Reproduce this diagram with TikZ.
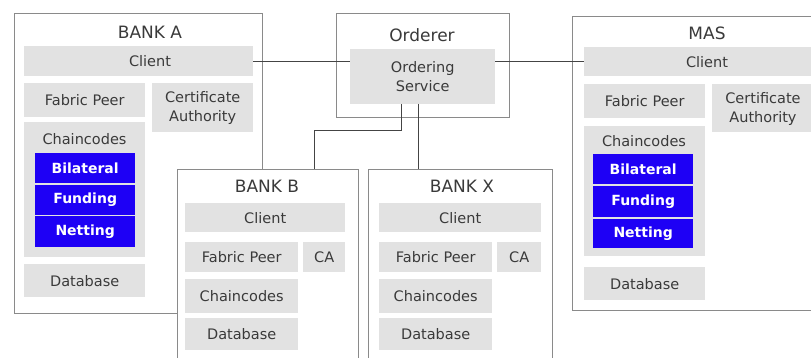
\documentclass[tikz,border=0pt]{standalone}
\usepackage{fontspec}
\setmainfont{DejaVu Sans}
\definecolor{gfill}{HTML}{E2E2E2}
\definecolor{bblue}{RGB}{30,0,245}
\definecolor{frame}{HTML}{8A8A8A}
\definecolor{txt}{HTML}{3A3A3A}
\definecolor{wire}{HTML}{444444}
\newcommand\bx[7]{\node[#1, anchor=north west, minimum width={#5-#3}, minimum height={#6-#4}] (#2) at (#3,#4) {#7};}
\tikzset{
  gbox/.style={fill=gfill, draw=none, inner sep=0pt, text=txt, font=\fontsize{14.5}{19}\selectfont, align=center},
  bbox/.style={fill=bblue, draw=none, inner sep=0pt, text=white, font=\fontsize{14}{16}\selectfont\bfseries},
  frm/.style={fill=white, draw=frame, line width=0.9pt, inner sep=0pt},
  ttl/.style={text=txt, font=\fontsize{17}{20}\selectfont, inner sep=0pt},
  lbl/.style={text=txt, font=\fontsize{14.5}{19}\selectfont, inner sep=0pt, align=center},
  wire/.style={draw=wire, line width=1pt}
}
\begin{document}
\begin{tikzpicture}[x=1pt,y=-1pt]
\useasboundingbox (0,0) rectangle (811,358);
\clip (0,0) rectangle (811,358);
% BANK A
\bx{frm}{bankA}{14}{13}{262}{313}{}
\node[ttl] (tA) at (150,32) {BANK A};
\bx{gbox}{clA}{24}{46}{253}{76}{}
\node[lbl] (clAt) at (150,61) {Client};
\bx{gbox}{fpA}{24}{83}{145}{117}{Fabric Peer}
\bx{gbox}{caA}{152}{83}{253}{132}{Certificate\\Authority}
\bx{gbox}{ccA}{24}{122}{145}{257}{}
\node[lbl] (ccAt) at (84.5,139) {Chaincodes};
\bx{bbox}{b1A}{35}{153}{135}{183}{Bilateral}
\bx{bbox}{b2A}{35}{184.5}{135}{214.5}{Funding}
\bx{bbox}{b3A}{35}{216}{135}{247}{Netting}
\bx{gbox}{dbA}{24}{264}{145}{297}{Database}
% Orderer
\bx{frm}{ord}{336}{13}{509}{117}{}
\node[ttl] (tO) at (422,35) {Orderer};
\bx{gbox}{os}{350}{49}{495}{104}{Ordering\\Service}
% MAS
\bx{frm}{mas}{572}{16}{842}{310}{}
\node[ttl] (tM) at (707,33) {MAS};
\bx{gbox}{clM}{584}{47}{830}{76}{}
\node[lbl] (clMt) at (707,62) {Client};
\bx{gbox}{fpM}{584}{84}{705}{118}{Fabric Peer}
\bx{gbox}{caM}{712}{84}{830}{132}{}
\node[lbl] (caMt) at (763,109) {Certificate\\Authority};
\bx{gbox}{ccM}{584}{126}{705}{256}{}
\node[lbl] (ccMt) at (644,141) {Chaincodes};
\bx{bbox}{b1M}{593}{154}{693}{184}{Bilateral}
\bx{bbox}{b2M}{593}{186}{693}{217}{Funding}
\bx{bbox}{b3M}{593}{218.5}{693}{248}{Netting}
\bx{gbox}{dbM}{584}{267}{705}{300}{Database}
% connectors
\draw[wire] (clA.east) -- (clA.east -| os.west);
\draw[wire] (clA.east -| os.east) -- (clA.east -| clM.west);
% BANK B
\bx{frm}{bankB}{177}{169}{358}{370}{}
\node[ttl] (tB) at (267,186) {BANK B};
\bx{gbox}{clB}{185}{203}{345}{232}{Client}
\bx{gbox}{fpB}{185}{242}{298}{272}{Fabric Peer}
\bx{gbox}{caB}{303}{242}{345}{272}{CA}
\bx{gbox}{ccB}{185}{279}{298}{313}{Chaincodes}
\bx{gbox}{dbB}{185}{318}{298}{350}{Database}
% BANK X
\bx{frm}{bankX}{368}{169}{552}{370}{}
\node[ttl] (tX) at (462,186) {BANK X};
\bx{gbox}{clX}{379}{203}{541}{232}{Client}
\bx{gbox}{fpX}{379}{242}{492}{272}{Fabric Peer}
\bx{gbox}{caX}{497}{242}{541}{272}{CA}
\bx{gbox}{ccX}{379}{279}{492}{313}{Chaincodes}
\bx{gbox}{dbX}{379}{318}{492}{350}{Database}
% orderer to B and X
\coordinate (k1) at (401,104);
\coordinate (k2) at (401,131);
\coordinate (k3) at (314,131);
\coordinate (k4) at (418,104);
\draw[wire] (k1) -- (k2) -- (k3) -- (k3 |- bankB.north);
\draw[wire] (k4) -- (k4 |- bankX.north);
\end{tikzpicture}
\end{document}
